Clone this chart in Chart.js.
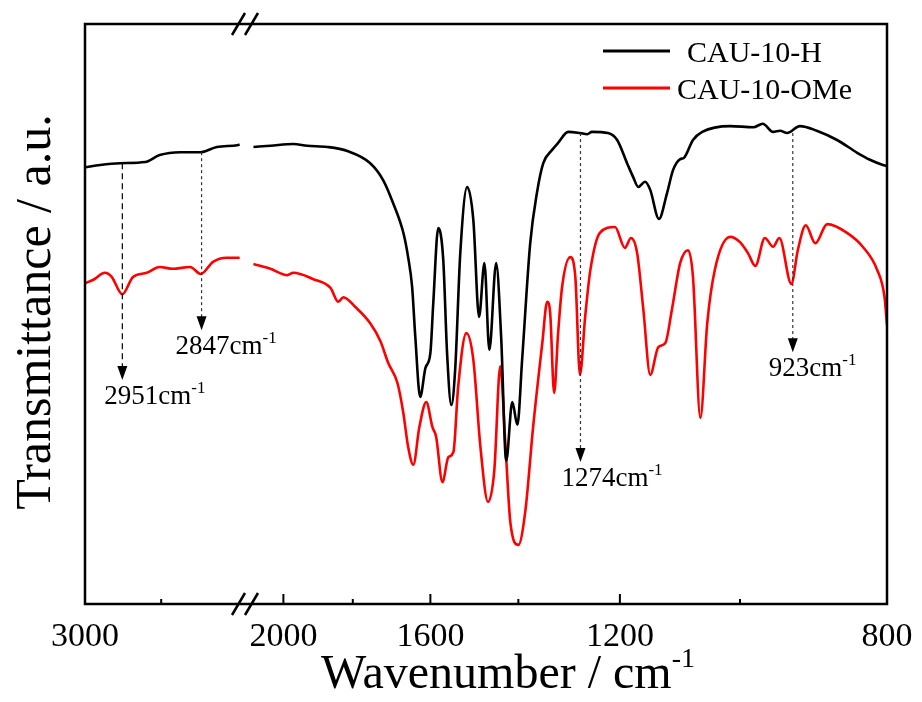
<!DOCTYPE html>
<html>
<head>
<meta charset="utf-8">
<title>FTIR CAU-10</title>
<script src="https://cdn.jsdelivr.net/npm/chart.js@4.4.1/dist/chart.umd.min.js"></script>
<style>
  html, body { margin: 0; padding: 0; background: #fff; }
</style>
</head>
<body>
<canvas id="ftirChart" width="922" height="702"></canvas>
<script>
// CAU-10-H, high wavenumber segment (3000 - 2790 cm-1)
const hLeftWn = [3000, 2980, 2954, 2921, 2902, 2875, 2849, 2827, 2800, 2797];
const hLeftT  = [75.3, 75.7, 76.0, 76.2, 77.4, 77.9, 77.9, 78.8, 79.1, 79.2];

// CAU-10-H, fingerprint segment (2120 - 800 cm-1)
const hRightWn = [2093, 2040, 1970, 1929, 1871, 1815, 1753, 1719, 1693, 1667, 1655, 1645, 1637, 1625, 1612, 1600,
  1593, 1581, 1569, 1560, 1550, 1541, 1529, 1513, 1499, 1486, 1474, 1463, 1448, 1437, 1426, 1413, 1402, 1392,
  1375, 1361, 1348, 1330, 1318, 1298, 1275, 1261, 1252, 1222, 1205, 1187, 1176, 1167, 1155, 1146, 1131, 1117,
  1107, 1095, 1089, 1074, 1059, 1015, 980, 966, 951, 941, 931, 913, 890, 863, 837, 821, 805, 800];
const hRightT = [78.8, 79.0, 79.3, 79.0, 78.8, 78.1, 76.0, 73.1, 69.1, 64.0, 59.8, 54.7, 46.0, 35.7, 40.7, 43.3,
  51.9, 64.8, 59.3, 43.3, 34.3, 40.3, 60.5, 71.9, 66.2, 49.5, 58.8, 43.8, 58.8, 46.0, 24.7, 34.8, 30.9, 42.1,
  62.2, 70.9, 76.0, 78.3, 79.5, 81.4, 81.2, 81.0, 81.4, 81.2, 80.0, 76.0, 73.6, 71.9, 72.8, 71.4, 66.4, 70.9,
  74.8, 76.7, 76.9, 80.0, 81.4, 82.4, 82.2, 82.8, 81.4, 81.6, 81.2, 82.4, 81.6, 80.0, 77.8, 76.6, 75.7, 75.5];

// CAU-10-OMe, high wavenumber segment
const oLeftWn = [3000, 2989, 2974, 2965, 2951, 2937, 2919, 2902, 2885, 2862, 2848, 2832, 2814, 2800, 2797];
const oLeftT  = [55.3, 55.9, 57.1, 56.4, 53.4, 56.4, 57.1, 58.1, 57.8, 58.1, 56.9, 59.0, 59.7, 59.7, 59.7];

// CAU-10-OMe, fingerprint segment
const oRightWn = [2093, 2040, 1988, 1970, 1911, 1862, 1840, 1826, 1793, 1753, 1726, 1706, 1682, 1667, 1655, 1642,
  1627, 1610, 1595, 1586, 1571, 1557, 1545, 1534, 1515, 1499, 1483, 1466, 1452, 1439, 1428, 1417, 1400, 1385,
  1369, 1350, 1340, 1334, 1326, 1318, 1310, 1294, 1284, 1275, 1265, 1255, 1237, 1209, 1191, 1180, 1169, 1158,
  1146, 1132, 1120, 1109, 1095, 1082, 1074, 1062, 1051, 1039, 1015, 1000, 988, 977, 963, 951, 942, 925, 916,
  905, 892, 876, 850, 830, 812, 803, 800];
const oRightT = [58.6, 57.8, 56.7, 57.1, 56.0, 54.5, 52.1, 52.9, 51.2, 48.4, 45.3, 41.6, 38.1, 32.9, 27.1, 24.0,
  30.5, 34.8, 30.5, 28.8, 21.0, 25.3, 26.2, 37.4, 46.7, 42.1, 27.1, 17.6, 23.1, 41.0, 27.8, 14.0, 10.2, 16.2,
  30.5, 45.0, 52.1, 50.2, 36.4, 46.7, 54.7, 59.8, 56.4, 39.5, 49.5, 57.6, 64.0, 65.0, 61.4, 63.1, 60.5, 50.7,
  39.5, 44.3, 45.0, 50.7, 58.8, 61.0, 56.4, 32.1, 48.4, 57.6, 63.3, 62.4, 60.5, 58.3, 63.1, 61.6, 63.1, 55.2, 61.0,
  65.3, 62.2, 65.5, 64.0, 61.6, 57.6, 52.9, 48.1];

// axis ticks
const majorTicksLeft = [3000];
const minorTicksLeft = [2900];
const majorTicksRight = [2000, 1600, 1200, 800];
const minorTicksRight = [1800, 1400, 1000];

const seriesNames = ['CAU-10-H', 'CAU-10-OMe'];
const seriesColors = ['#000000', '#ff0000'];

// marked bands
const peakWn   = [2951, 2847, 1274, 923];
const peakAxis = ['xL', 'xL', 'xR', 'xR'];
const peakFrom = [76.0, 77.9, 81.2, 81.2];
const peakTo   = [38.6, 47.2, 24.5, 43.4];

const serif = '"Liberation Serif", "Times New Roman", serif';

function toPoints(wn, t) {
  return wn.map((w, i) => ({ x: w, y: t[i] }));
}

function lineSet(label, wn, t, color, axis) {
  return {
    label: label,
    data: toPoints(wn, t),
    xAxisID: axis,
    borderColor: color,
    borderWidth: 2.6,
    pointRadius: 0,
    fill: false,
    cubicInterpolationMode: 'monotone'
  };
}

// text with a small raised part, e.g. cm-1
function supText(ctx, base, sup, x, y, size, supSize, rise) {
  ctx.font = size + 'px ' + serif;
  const w1 = ctx.measureText(base).width;
  ctx.fillText(base, x, y);
  ctx.font = supSize + 'px ' + serif;
  ctx.fillText(sup, x + w1, y - rise);
  return w1 + ctx.measureText(sup).width;
}

const decorPlugin = {
  id: 'decor',
  afterDraw(chart) {
    const ctx = chart.ctx;
    const a = chart.chartArea;
    const xL = chart.scales.xL;
    const xR = chart.scales.xR;
    const y = chart.scales.y;
    ctx.save();
    ctx.strokeStyle = '#000';
    ctx.fillStyle = '#000';

    // frame
    ctx.lineWidth = 2.5;
    ctx.strokeRect(a.left, a.top, a.right - a.left, a.bottom - a.top);

    // inward ticks on the bottom axis
    ctx.lineWidth = 2;
    const tick = (px, len) => {
      ctx.beginPath();
      ctx.moveTo(px, a.bottom);
      ctx.lineTo(px, a.bottom - len);
      ctx.stroke();
    };
    majorTicksLeft.forEach(v => tick(xL.getPixelForValue(v), 10));
    minorTicksLeft.forEach(v => tick(xL.getPixelForValue(v), 5));
    majorTicksRight.forEach(v => tick(xR.getPixelForValue(v), 10));
    minorTicksRight.forEach(v => tick(xR.getPixelForValue(v), 5));

    // tick labels
    ctx.font = '34px ' + serif;
    ctx.textAlign = 'center';
    ctx.textBaseline = 'alphabetic';
    majorTicksLeft.forEach(v => ctx.fillText(String(v), xL.getPixelForValue(v), 646));
    majorTicksRight.forEach(v => ctx.fillText(String(v), xR.getPixelForValue(v), 646));

    // axis break marks
    const bx = xL.right;
    ctx.lineWidth = 2.5;
    [a.top, a.bottom].forEach(yy => {
      ctx.beginPath();
      ctx.moveTo(bx - 13, yy + 11);
      ctx.lineTo(bx, yy - 11);
      ctx.moveTo(bx, yy + 11);
      ctx.lineTo(bx + 13, yy - 11);
      ctx.stroke();
    });

    // axis titles
    ctx.textAlign = 'left';
    ctx.font = '48px ' + serif;
    const wBase = ctx.measureText('Wavenumber / cm').width;
    ctx.font = '28px ' + serif;
    const wSup = ctx.measureText('-1').width;
    supText(ctx, 'Wavenumber / cm', '-1', 508 - (wBase + wSup) / 2, 688, 48, 28, 21);

    ctx.save();
    ctx.translate(50, 312);
    ctx.rotate(-Math.PI / 2);
    ctx.textAlign = 'center';
    ctx.font = '50px ' + serif;
    ctx.fillText('Transmittance / a.u.', 0, 0);
    ctx.restore();

    // legend
    const legY = [51, 88];
    const legTx = [687, 677];
    seriesNames.forEach((name, i) => {
      ctx.strokeStyle = seriesColors[i];
      ctx.lineWidth = 3;
      ctx.beginPath();
      ctx.moveTo(603, legY[i]);
      ctx.lineTo(670, legY[i]);
      ctx.stroke();
      ctx.font = '30px ' + serif;
      ctx.textAlign = 'left';
      ctx.fillText(name, legTx[i], legY[i] + 11);
    });

    // band markers
    const dashes = [[6, 4], [3, 3], [3, 3], [3, 3]];
    const dx = [-18, -26, -19, -24];
    peakWn.forEach((wn, i) => {
      const sc = chart.scales[peakAxis[i]];
      const px = sc.getPixelForValue(wn);
      const y0 = y.getPixelForValue(peakFrom[i]);
      const y1 = y.getPixelForValue(peakTo[i]);
      ctx.strokeStyle = i === 0 ? '#000' : '#333';
      ctx.lineWidth = 1.2;
      ctx.setLineDash(dashes[i]);
      ctx.beginPath();
      ctx.moveTo(px, y0);
      ctx.lineTo(px, y1 - 12);
      ctx.stroke();
      ctx.setLineDash([]);
      ctx.fillStyle = '#000';
      ctx.beginPath();
      ctx.moveTo(px - 5, y1 - 14);
      ctx.lineTo(px + 5, y1 - 14);
      ctx.lineTo(px, y1);
      ctx.closePath();
      ctx.fill();
      ctx.textAlign = 'left';
      supText(ctx, wn + 'cm', '-1', px + dx[i], y1 + 24, 27, 17, 11);
    });
    ctx.restore();
  }
};

new Chart(document.getElementById('ftirChart').getContext('2d'), {
  type: 'line',
  data: {
    datasets: [
      lineSet(seriesNames[0], hLeftWn, hLeftT, seriesColors[0], 'xL'),
      lineSet(seriesNames[0], hRightWn, hRightT, seriesColors[0], 'xR'),
      lineSet(seriesNames[1], oLeftWn, oLeftT, seriesColors[1], 'xL'),
      lineSet(seriesNames[1], oRightWn, oRightT, seriesColors[1], 'xR')
    ]
  },
  options: {
    responsive: false,
    animation: false,
    layout: { padding: { left: 85, right: 35, top: 24, bottom: 98 } },
    plugins: {
      legend: { display: false },
      tooltip: { enabled: false }
    },
    scales: {
      xL: {
        type: 'linear', position: 'bottom', stack: 'wn', stackWeight: 160,
        min: 2790, max: 3000, reverse: true, display: false
      },
      xR: {
        type: 'logarithmic', position: 'bottom', stack: 'wn', stackWeight: 642,
        min: 800, max: 2120, reverse: true, display: false
      },
      y: { type: 'linear', min: 0, max: 100, display: false }
    }
  },
  plugins: [decorPlugin]
});
</script>
</body>
</html>
